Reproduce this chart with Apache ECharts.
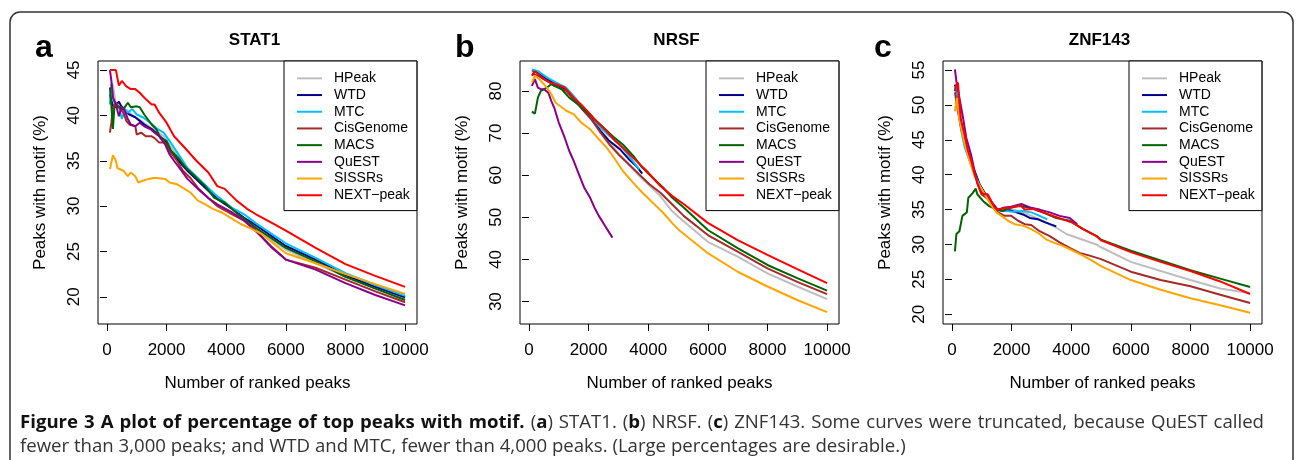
<!DOCTYPE html>
<html>
<head>
<meta charset="utf-8">
<script src="https://cdn.jsdelivr.net/npm/echarts@6/dist/echarts.min.js"></script>
<style>
html,body{margin:0;padding:0;background:#fff;}
#chart{width:1296px;height:460px;}
</style>
</head>
<body>
<div id="chart"></div>
<script>
// ---------- DATA ----------
const METHODS = ['HPeak','WTD','MTC','CisGenome','MACS','QuEST','SISSRs','NEXT\u2212peak'];
const PANEL_TITLES = ['STAT1','NRSF','ZNF143'];
const PANEL_LETTERS = ['a','b','c'];
const X_TICKS = [0,2000,4000,6000,8000,10000];
const Y_TICKS_A = [20,25,30,35,40,45];
const Y_TICKS_B = [30,40,50,60,70,80];
const Y_TICKS_C = [20,25,30,35,40,45,50,55];

// STAT1
const STAT1_HPeak = [[100,43.2],[200,43.4],[300,41.2],[500,40.9],[700,40.5],[900,39.9],[1150,39.4],[1400,38.8],[1650,38.3],[1900,37.7],[2100,36.8],[2400,35.3],[2700,34.2],[3050,33.0],[3400,31.9],[3700,30.9],[4200,29.7],[4600,28.6],[5000,27.4],[6000,25.2],[7000,23.7],[8000,22.2],[9000,20.95],[10000,19.8]];
const STAT1_WTD = [[100,42.3],[200,41.0],[300,41.2],[400,41.5],[500,40.9],[600,40.5],[750,40.1],[950,39.8],[1100,39.4],[1250,39.0],[1500,38.5],[1700,37.9],[1950,37.2],[2150,35.9],[2400,35.0],[2700,33.9],[3050,32.8],[3400,31.7],[3700,30.8],[4200,29.7],[4600,28.7],[5000,27.9],[6000,25.6],[7000,24.1],[8000,22.4],[9000,21.1],[10000,19.95]];
const STAT1_MTC = [[100,41.2],[150,43.6],[200,42.0],[300,40.9],[400,41.0],[500,39.6],[600,40.7],[700,40.3],[850,40.7],[1000,40.1],[1200,39.8],[1450,39.2],[1650,38.6],[1900,38.1],[2100,37.2],[2400,35.7],[2700,34.2],[3050,33.1],[3400,32.0],[3700,31.1],[4200,29.8],[4600,29.1],[5000,28.1],[6000,25.9],[7000,24.3],[8000,22.6],[9000,21.3],[10000,20.1]];
const STAT1_CisGenome = [[100,38.1],[150,39.2],[200,40.9],[300,41.4],[400,40.9],[550,40.3],[650,39.4],[750,39.0],[950,38.8],[1000,37.9],[1150,38.1],[1300,37.7],[1500,37.7],[1600,37.5],[1750,37.0],[1950,37.0],[2100,36.1],[2350,35.0],[2550,33.9],[2800,33.1],[3050,32.0],[3400,30.9],[3700,30.0],[4200,29.1],[4600,28.4],[5000,27.2],[5500,25.6],[6000,24.1],[7000,23.2],[8000,21.9],[9000,20.6],[10000,19.4]];
const STAT1_MACS = [[100,43.1],[150,41.0],[200,38.5],[250,40.9],[350,41.0],[550,40.7],[700,41.4],[800,40.9],[1000,41.0],[1100,40.9],[1250,40.1],[1500,39.0],[1650,38.5],[1800,37.5],[2000,37.2],[2150,36.1],[2400,35.3],[2600,34.4],[2950,33.3],[3300,32.2],[3600,30.9],[3950,30.4],[4400,29.1],[4850,28.0],[5000,27.6],[6000,25.4],[7000,23.9],[8000,22.2],[9000,20.9],[10000,19.65]];
const STAT1_QuEST = [[100,45.0],[150,43.8],[200,42.0],[300,41.2],[400,39.9],[500,41.0],[600,40.5],[700,39.6],[800,39.0],[950,38.8],[1100,39.2],[1250,38.8],[1450,38.5],[1600,38.1],[1750,37.7],[1950,36.8],[2100,35.7],[2250,35.0],[2500,33.9],[2700,33.0],[3050,31.9],[3400,30.9],[3700,30.2],[4200,29.3],[4600,28.4],[5000,27.3],[5500,25.5],[6000,24.1],[7000,23.0],[8000,21.5],[9000,20.2],[10000,19.05]];
const STAT1_SISSRs = [[100,34.1],[200,35.6],[300,35.0],[350,34.2],[550,33.9],[700,33.3],[800,33.7],[950,33.3],[1050,32.6],[1200,32.8],[1400,33.0],[1550,33.1],[1700,33.1],[1950,33.0],[2100,32.6],[2350,32.4],[2550,32.0],[2800,31.5],[3050,30.6],[3300,30.2],[3550,29.7],[3850,29.3],[4150,28.7],[4500,28.0],[4850,27.5],[5200,26.9],[6000,24.8],[7000,23.7],[8000,22.5],[9000,21.4],[10000,20.3]];
const STAT1_NEXTpeak = [[100,45.0],[300,45.0],[400,43.3],[500,43.8],[650,43.2],[800,42.9],[950,42.9],[1100,42.5],[1300,41.8],[1500,41.2],[1600,41.2],[1750,40.3],[2000,39.2],[2250,37.7],[2650,36.3],[3000,35.0],[3400,33.7],[3700,32.2],[3950,31.9],[4350,30.6],[4700,29.7],[5000,29.1],[5500,28.2],[6000,27.3],[7000,25.4],[8000,23.6],[9000,22.3],[10000,21.1]];

// NRSF
const NRSF_HPeak = [[100,84.4],[600,82.5],[1250,80.2],[1800,75.8],[2400,70.3],[3050,64.8],[3700,59.8],[4050,57.5],[4400,55.1],[4800,51.5],[5000,50.2],[6000,44.2],[7000,40.7],[8000,36.7],[9000,33.6],[10000,30.6]];
const NRSF_WTD = [[100,84.9],[300,84.4],[600,82.8],[900,81.6],[1250,80.4],[1550,78.0],[1800,75.6],[2100,73.3],[2400,70.5],[2700,68.1],[3050,66.2],[3350,63.8],[3600,62.2],[3800,60.4]];
const NRSF_MTC = [[100,85.1],[300,84.7],[600,83.2],[900,82.0],[1250,80.8],[1550,78.4],[1800,76.0],[2100,74.1],[2400,71.3],[2700,69.3],[3050,67.3],[3350,64.6],[3700,61.4]];
const NRSF_CisGenome = [[100,84.0],[300,83.6],[600,82.4],[900,81.2],[1250,80.0],[1550,77.6],[1800,75.6],[2100,73.3],[2400,70.1],[2700,67.3],[3050,64.6],[3350,62.6],[3700,60.2],[4050,57.8],[4400,55.9],[4800,53.1],[5200,50.3],[6000,45.8],[7000,41.9],[8000,37.9],[9000,34.7],[10000,31.8]];
const NRSF_MACS = [[100,75.1],[200,74.6],[300,78.4],[400,80.0],[600,80.8],[750,81.6],[850,81.2],[1100,80.4],[1350,78.4],[1650,76.8],[1900,75.3],[2200,73.3],[2500,71.3],[2800,69.3],[3150,67.3],[3500,64.6],[3800,61.8],[4150,59.4],[4500,57.1],[4800,54.7],[5200,52.3],[6000,47.0],[7000,42.7],[8000,38.7],[9000,35.6],[10000,32.6]];
const NRSF_QuEST = [[100,81.2],[200,82.8],[300,80.8],[400,80.4],[500,80.4],[650,79.6],[750,77.6],[850,76.0],[1000,72.5],[1200,68.9],[1350,65.8],[1500,63.4],[1700,59.8],[1850,57.1],[2050,54.7],[2200,52.3],[2350,50.3],[2550,48.0],[2800,45.2]];
const NRSF_SISSRs = [[100,82.0],[200,83.6],[350,82.8],[600,80.8],[750,79.2],[900,77.2],[1250,75.3],[1500,74.5],[1750,72.5],[2050,70.9],[2300,68.9],[2600,66.6],[2850,64.2],[3150,61.0],[3500,58.2],[3800,55.9],[4150,53.5],[4500,51.1],[4800,48.7],[5000,47.2],[6000,41.5],[7000,37.1],[8000,33.6],[9000,30.4],[10000,27.5]];
const NRSF_NEXTpeak = [[100,83.6],[200,84.7],[300,84.0],[500,82.8],[700,82.0],[900,81.6],[1200,80.8],[1300,80.0],[1500,78.4],[1750,76.8],[2000,74.9],[2250,72.9],[2600,70.5],[2900,68.1],[3250,65.8],[3600,63.4],[3950,61.0],[4400,57.5],[4800,55.1],[5200,53.1],[6000,48.7],[7000,44.6],[8000,41.1],[9000,37.7],[10000,34.4]];

// ZNF143
const ZNF143_HPeak = [[100,50.1],[200,50.6],[310,47.2],[430,44.6],[590,42.2],[760,40.3],[930,38.5],[1100,37.3],[1300,36.1],[1500,35.0],[2000,35.1],[2500,34.4],[3000,33.5],[3500,32.4],[3840,31.5],[4170,31.0],[4510,30.5],[4840,30.0],[5000,29.6],[6000,27.5],[7000,26.2],[8000,24.9],[9000,23.7],[10000,23.0]];
const ZNF143_WTD = [[100,52.9],[200,50.1],[310,46.7],[430,44.8],[590,42.4],[760,40.5],[930,38.6],[1100,37.4],[1260,36.2],[1490,35.0],[1710,34.8],[1940,34.9],[2160,34.6],[2380,34.3],[2610,33.8],[2890,33.6],[3170,33.1],[3500,32.6]];
const ZNF143_MTC = [[100,52.7],[200,49.6],[310,46.3],[430,43.9],[590,42.0],[760,40.1],[930,38.4],[1100,37.2],[1320,36.0],[1540,34.9],[1820,34.8],[2050,34.7],[2380,34.8],[2660,34.6],[2940,34.1],[3200,33.6]];
const ZNF143_CisGenome = [[100,51.8],[200,49.1],[310,46.7],[480,43.9],[700,41.0],[870,38.6],[985,37.2],[1150,36.7],[1380,35.8],[1540,34.6],[1770,34.1],[1990,34.1],[2220,33.4],[2440,32.9],[2660,32.8],[2940,31.9],[3280,31.2],[3610,30.3],[3950,29.5],[4280,28.8],[4620,28.4],[5000,27.9],[6000,26.1],[7000,24.9],[8000,24.0],[9000,22.8],[10000,21.6]];
const ZNF143_MACS = [[100,29.0],[150,31.5],[250,31.9],[350,34.1],[500,34.6],[550,36.7],[700,37.4],[800,38.0],[850,37.2],[1050,36.2],[1250,35.5],[1500,35.0],[1700,34.8],[1950,35.3],[2250,35.5],[2600,35.3],[3050,34.6],[3500,33.8],[3950,33.4],[4400,32.2],[4850,31.2],[5000,30.7],[6000,29.1],[7000,27.7],[8000,26.3],[9000,25.1],[10000,23.9]];
const ZNF143_QuEST = [[100,55.1],[150,53.4],[250,51.0],[370,48.2],[480,45.3],[650,42.7],[760,40.5],[870,38.6],[1040,37.4],[1210,36.9],[1380,35.8],[1540,35.0],[1770,35.3],[1990,35.4],[2330,35.8],[2610,35.3],[2940,35.0],[3280,34.6],[3610,34.1],[3950,33.8],[4200,32.9]];
const ZNF143_SISSRs = [[100,49.1],[170,51.0],[240,48.2],[310,46.7],[430,44.4],[590,42.0],[760,39.8],[930,38.4],[1100,37.2],[1260,36.0],[1490,34.6],[1660,34.1],[1880,33.4],[2100,32.9],[2380,32.7],[2660,32.2],[2940,31.5],[3170,30.7],[3390,30.3],[3720,29.8],[4060,29.1],[4400,28.4],[4730,27.6],[5000,26.9],[6000,24.9],[7000,23.5],[8000,22.3],[9000,21.3],[10000,20.2]];
const ZNF143_NEXTpeak = [[100,52.0],[150,52.9],[200,53.2],[250,50.6],[300,47.9],[425,45.8],[540,43.4],[650,42.0],[760,40.1],[870,38.6],[985,37.4],[1100,37.2],[1200,37.2],[1320,36.2],[1430,35.3],[1540,35.0],[1770,35.2],[1990,35.3],[2300,35.6],[2440,35.0],[2720,35.1],[3050,34.6],[3390,34.1],[3720,33.6],[4060,33.1],[4400,32.2],[4850,31.2],[5000,30.6],[6000,28.9],[7000,27.5],[8000,26.2],[9000,24.7],[10000,22.9]];

// caption text ({b|...} marks bold runs)
const CAPTION_LINE1 = '{b|Figure 3 A plot of percentage of top peaks with motif.} ({b|a}) STAT1. ({b|b}) NRSF. ({b|c}) ZNF143. Some curves were truncated, because QuEST called';
const CAPTION_LINE2 = 'fewer than 3,000 peaks; and WTD and MTC, fewer than 4,000 peaks. (Large percentages are desirable.)';

// ---------- STYLE / LAYOUT ----------
const COLORS = ['#BEBEBE','#00008B','#00BFFF','#A52A2A','#006400','#8B008B','#FFA500','#FF0000'];
const FONT = "'Liberation Sans', Arial, Helvetica, sans-serif";

const panels = [
  {data:[STAT1_HPeak,STAT1_WTD,STAT1_MTC,STAT1_CisGenome,STAT1_MACS,STAT1_QuEST,STAT1_SISSRs,STAT1_NEXTpeak], yMin:17.0, yMax:46.0, yTicks:Y_TICKS_A, left:98},
  {data:[NRSF_HPeak,NRSF_WTD,NRSF_MTC,NRSF_CisGenome,NRSF_MACS,NRSF_QuEST,NRSF_SISSRs,NRSF_NEXTpeak], yMin:24.7, yMax:87.1, yTicks:Y_TICKS_B, left:520},
  {data:[ZNF143_HPeak,ZNF143_WTD,ZNF143_MTC,ZNF143_CisGenome,ZNF143_MACS,ZNF143_QuEST,ZNF143_SISSRs,ZNF143_NEXTpeak], yMin:18.6, yMax:56.3, yTicks:Y_TICKS_C, left:943}
];
const GRID_TOP = 61, GRID_W = 319, GRID_H = 263, LEG_W = 133;
const plainNum = v => String(v);

const grids = [], xAxes = [], yAxes = [], legends = [], series = [], graphics = [];
panels.forEach((p, i) => {
  grids.push({left:p.left, top:GRID_TOP, width:GRID_W, height:GRID_H, show:true, borderColor:'#000', borderWidth:1, backgroundColor:'transparent'});
  xAxes.push({
    gridIndex:i, type:'value', min:-300, max:10400,
    axisLine:{show:false}, splitLine:{show:false},
    axisTick:{show:true, inside:false, length:7, customValues:X_TICKS, lineStyle:{color:'#000', width:1}},
    axisLabel:{customValues:X_TICKS, formatter:plainNum, fontSize:17, color:'#000', fontFamily:FONT, margin:18},
    name:'Number of ranked peaks', nameLocation:'middle', nameGap:51,
    nameTextStyle:{fontSize:17, color:'#000', fontFamily:FONT}
  });
  yAxes.push({
    gridIndex:i, type:'value', min:p.yMin, max:p.yMax,
    axisLine:{show:false}, splitLine:{show:false},
    axisTick:{show:true, inside:false, length:7, customValues:p.yTicks, lineStyle:{color:'#000', width:1}},
    axisLabel:{customValues:p.yTicks, formatter:plainNum, rotate:90, fontSize:17, color:'#000', fontFamily:FONT, margin:15},
    name:'Peaks with motif (%)', nameLocation:'middle', nameRotate:90, nameGap:49,
    nameTextStyle:{fontSize:17, color:'#000', fontFamily:FONT}
  });
  legends.push({
    orient:'vertical', left:p.left + GRID_W - LEG_W, top:GRID_TOP,
    data:METHODS, icon:'rect', itemWidth:25, itemHeight:2, itemGap:0,
    padding:[9,7,7,13], borderColor:'#000', borderWidth:1, backgroundColor:'#fff',
    selectedMode:false,
    textStyle:{fontSize:14, color:'#000', fontFamily:FONT, lineHeight:16.7, padding:[0,0,0,7]}
  });
  p.data.forEach((arr, j) => {
    series.push({
      type:'line', name:METHODS[j], xAxisIndex:i, yAxisIndex:i, data:arr,
      showSymbol:false, symbol:'none', color:COLORS[j],
      lineStyle:{width:2, color:COLORS[j]}, itemStyle:{color:COLORS[j]},
      silent:true, animation:false, z:2
    });
  });
  graphics.push({type:'text', x:p.left + GRID_W/2 - 3, y:40,
    style:{text:PANEL_TITLES[i], font:"bold 17px " + FONT, fill:'#000', textAlign:'center', textVerticalAlign:'middle'}});
});
// panel letters
[35, 455, 874].forEach((x, i) => {
  graphics.push({type:'text', x:x, y:48,
    style:{text:PANEL_LETTERS[i], font:"bold 32px " + FONT, fill:'#000', textAlign:'left', textVerticalAlign:'middle'}});
});
// outer frame
graphics.push({type:'rect', shape:{x:10, y:12, width:1283, height:480, r:10},
  style:{fill:'none', stroke:'#333', lineWidth:1.5}, z:-1});

// caption (line 1 justified, line 2 left-aligned)
const CAP_FAMILY = "'Open Sans', sans-serif";
const CAP_SIZE = 18.6;
const CAP_REG = CAP_SIZE + "px " + CAP_FAMILY;
const CAP_BOLD = "bold " + CAP_SIZE + "px " + CAP_FAMILY;
const CAP_X0 = 20, CAP_X1 = 1264;
const mctx = document.createElement('canvas').getContext('2d');
function textW(font, t){ mctx.font = font; return mctx.measureText(t).width; }
function parseRuns(s){ // returns [{t, bold}]
  const runs = []; const re = /\{b\|([^}]*)\}|([^{]+)/g; let m;
  while ((m = re.exec(s))) { if (m[1] !== undefined) runs.push({t:m[1], bold:true}); else runs.push({t:m[2], bold:false}); }
  return runs;
}
function splitWords(s){ // words as arrays of runs
  const words = [[]];
  parseRuns(s).forEach(r => {
    const parts = r.t.split(' ');
    parts.forEach((pt, k) => {
      if (k > 0) words.push([]);
      if (pt.length) words[words.length-1].push({t:pt, bold:r.bold});
    });
  });
  return words.filter(w => w.length);
}
(function(){
  const words = splitWords(CAPTION_LINE1);
  const widths = words.map(w => w.reduce((a, r) => a + textW(r.bold ? CAP_BOLD : CAP_REG, r.t), 0));
  const spaceW = textW(CAP_REG, ' ');
  const natural = widths.reduce((a, b) => a + b, 0) + spaceW * (words.length - 1);
  const gap = spaceW + Math.max(0, (CAP_X1 - CAP_X0 - natural) / (words.length - 1));
  let x = CAP_X0;
  words.forEach((w, k) => {
    const txt = w.map(r => r.bold ? '{b|' + r.t + '}' : '{r|' + r.t + '}').join('');
    graphics.push({type:'text', x:x, y:423, style:{
      text:txt, font:CAP_REG, fill:'#333', textVerticalAlign:'middle',
      rich:{b:{fontWeight:'bold', fontFamily:CAP_FAMILY, fontSize:CAP_SIZE, fill:'#111'},
            r:{fontFamily:CAP_FAMILY, fontSize:CAP_SIZE, fill:'#333'}}
    }});
    x += widths[k] + gap;
  });
})();
graphics.push({type:'text', x:CAP_X0, y:447,
  style:{text:CAPTION_LINE2, font:CAP_REG, fill:'#333', textVerticalAlign:'middle'}});

const chart = echarts.init(document.getElementById('chart'), null, {renderer:'canvas'});
chart.setOption({
  animation:false,
  backgroundColor:'#fff',
  grid:grids, xAxis:xAxes, yAxis:yAxes, legend:legends, series:series, graphic:graphics
});
</script>
</body>
</html>
